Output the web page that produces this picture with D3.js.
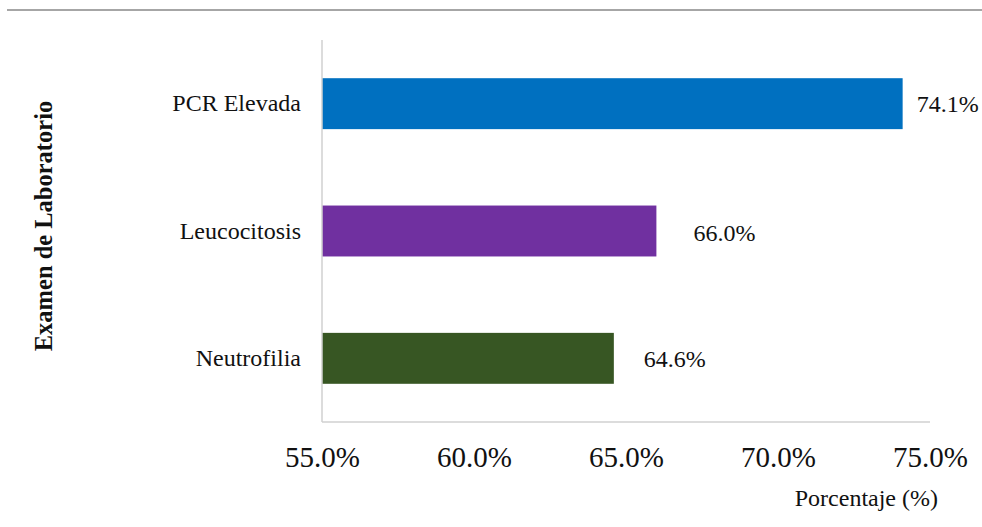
<!DOCTYPE html>
<html>
<head>
<meta charset="utf-8">
<script src="https://cdn.jsdelivr.net/npm/d3@7"></script>
<style>
  html, body { margin: 0; padding: 0; background: #fff; }
  svg { display: block; }
</style>
</head>
<body>
<svg id="chart" width="982" height="527"></svg>
<script>
// Laboratory findings and their share of patients (%)
const categories = ["PCR Elevada", "Leucocitosis", "Neutrofilia"];
const values = [74.1, 66.0, 64.6];
const barColors = ["#0070C0", "#7030A0", "#375623"];
const tickValues = [55, 60, 65, 70, 75];
const xTitle = "Porcentaje (%)";
const yTitle = "Examen de Laboratorio";

const FONT = "'Liberation Serif', 'Times New Roman', serif";
const INK = "#111";

const svg = d3.select("#chart");
const plot = { left: 322, right: 930, top: 40, bottom: 422 };

// Thin rule across the top of the figure
svg.append("line")
  .attr("x1", 7).attr("x2", 982)
  .attr("y1", 10).attr("y2", 10)
  .attr("stroke", "#a6a6a6").attr("stroke-width", 2);

const x = d3.scaleLinear().domain([55, 75]).range([plot.left, plot.right]);
const y = d3.scaleBand().domain(categories).range([plot.top, plot.bottom]).paddingInner(0.6).paddingOuter(0.3);

// Bars
svg.append("g").selectAll("rect")
  .data(categories)
  .join("rect")
  .attr("x", x(55))
  .attr("y", d => y(d))
  .attr("width", (d, i) => x(values[i]) - x(55))
  .attr("height", y.bandwidth())
  .attr("fill", (d, i) => barColors[i]);

// X axis: percentage labels under the baseline
const xAxis = d3.axisBottom(x)
  .tickValues(tickValues)
  .tickFormat(d => d.toFixed(1) + "%")
  .tickSize(0)
  .tickPadding(24);
const gx = svg.append("g").attr("transform", `translate(0,${plot.bottom})`).call(xAxis);
gx.select(".domain").remove();
gx.selectAll("text")
  .style("font-family", FONT)
  .style("font-size", "29px")
  .attr("fill", INK);

svg.append("line")
  .attr("x1", plot.left).attr("x2", plot.right)
  .attr("y1", plot.bottom).attr("y2", plot.bottom)
  .attr("stroke", "#d0d0d0").attr("stroke-width", 1.5);

// Y axis: category names and vertical line
const yAxis = d3.axisLeft(y).tickSize(0).tickPadding(21);
const gy = svg.append("g").attr("transform", `translate(${plot.left},0)`).call(yAxis);
gy.select(".domain").remove();
gy.selectAll("text")
  .style("font-family", FONT)
  .style("font-size", "24px")
  .attr("fill", INK);

svg.append("line")
  .attr("x1", plot.left).attr("x2", plot.left)
  .attr("y1", plot.top).attr("y2", plot.bottom)
  .attr("stroke", "#d0d0d0").attr("stroke-width", 1.5);

// Value labels beside each bar
const labelGap = [14, 37, 30];
svg.append("g").selectAll("text")
  .data(categories)
  .join("text")
  .attr("x", (d, i) => x(values[i]) + labelGap[i])
  .attr("y", (d, i) => y(d) + y.bandwidth() / 2 + (i === 1 ? 2 : 0))
  .attr("dy", "0.35em")
  .style("font-family", FONT)
  .style("font-size", "24px")
  .attr("fill", INK)
  .text((d, i) => values[i].toFixed(1) + "%");

// Axis titles
svg.append("text")
  .attr("x", 938).attr("y", 506)
  .attr("text-anchor", "end")
  .style("font-family", FONT)
  .style("font-size", "24px")
  .attr("fill", INK)
  .text(xTitle);

svg.append("text")
  .attr("transform", "translate(52,226) rotate(-90)")
  .attr("text-anchor", "middle")
  .style("font-family", FONT)
  .style("font-size", "24.5px")
  .style("font-weight", "bold")
  .attr("fill", INK)
  .text(yTitle);
</script>
</body>
</html>
